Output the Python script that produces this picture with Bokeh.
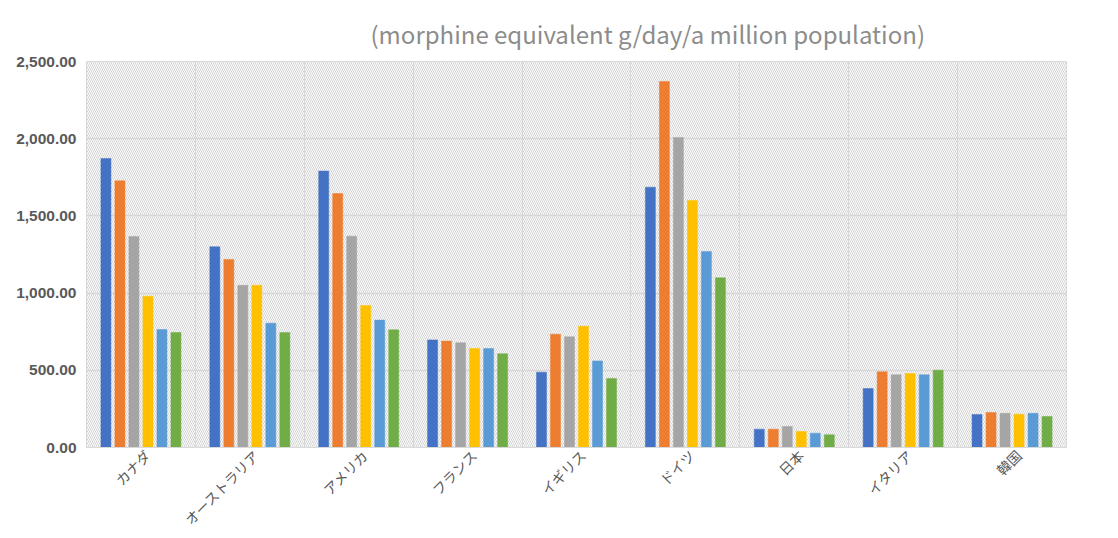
from bokeh.plotting import figure
from bokeh.models import ColumnDataSource, FixedTicker, NumeralTickFormatter, Range1d
from bokeh.embed import file_html
from bokeh.resources import INLINE
from math import pi

categories = ['カナダ', 'オーストラリア', 'アメリカ', 'フランス', 'イギリス', 'ドイツ', '日本', 'イタリア', '韓国']
series_1 = [1872, 1300, 1790, 697, 488, 1686, 119, 382, 214]
series_2 = [1727, 1218, 1645, 689, 734, 2371, 119, 490, 227]
series_3 = [1367, 1051, 1369, 678, 717, 2008, 136, 471, 222]
series_4 = [980, 1051, 920, 641, 786, 1600, 104, 479, 216]
series_5 = [764, 805, 825, 641, 561, 1269, 93, 471, 222]
series_6 = [745, 745, 762, 607, 447, 1099, 82, 501, 201]
y_ticks = [0, 500, 1000, 1500, 2000, 2500]
title_text = '(morphine equivalent g/day/a million population)'

all_series = [series_1, series_2, series_3, series_4, series_5, series_6]
colors = ['#4472C4', '#ED7D31', '#A5A5A5', '#FFC000', '#5B9BD5', '#70AD47']

p = figure(width=1118, height=538, output_backend="svg", toolbar_location=None,
           x_range=Range1d(0, len(categories)), y_range=Range1d(0, 2500),
           min_border_left=86, min_border_right=52, min_border_bottom=91, min_border_top=61)

# hatched plot background
p.quad(left=0, right=len(categories), bottom=0, top=2500, fill_color=None, line_color=None,
       hatch_pattern="\\", hatch_color="#d2d2d2", hatch_scale=4, hatch_weight=1)

step = 0.1286
bar_w = 0.092
idx = list(range(len(categories)))
for i, (vals, col) in enumerate(zip(all_series, colors)):
    src = ColumnDataSource(data=dict(
        x=[k + 0.5 + (i - 2.5) * step for k in idx],
        top=vals,
    ))
    p.vbar(x='x', top='top', width=bar_w, source=src, fill_color=col, line_color=col, line_width=0.5)

p.title.text = title_text
p.title.text_font = "Noto Sans CJK JP"
p.title.text_font_style = "normal"
p.title.text_font_size = "24px"
p.title.text_color = "#8c8c8c"
p.title.align = "left"
p.title.offset = 284
p.title.standoff = 22

p.outline_line_color = "#d9d9d9"
p.background_fill_color = "white"
p.border_fill_color = "white"

# category labels on the axis, rotated (nudged right of the group centre)
label_pos = [k + 0.56 for k in idx]
p.xaxis.ticker = FixedTicker(ticks=label_pos)
p.xaxis.major_label_overrides = {x: c for x, c in zip(label_pos, categories)}
p.xaxis.major_label_orientation = pi / 4
p.xaxis.major_label_text_font = "Noto Sans CJK JP"
p.xaxis.major_label_text_font_size = "14px"
p.xaxis.major_label_text_color = "#595959"
p.xaxis.major_label_standoff = 5
p.xaxis.axis_line_color = "#d9d9d9"
p.xaxis.major_tick_line_color = None
p.xaxis.minor_tick_line_color = None
p.xaxis.major_tick_out = 0
p.xaxis.major_tick_in = 0

p.yaxis.ticker = FixedTicker(ticks=y_ticks)
p.yaxis.formatter = NumeralTickFormatter(format="0,0.00")
p.yaxis.major_label_text_font = "Liberation Sans"
p.yaxis.major_label_text_font_style = "bold"
p.yaxis.major_label_text_font_size = "15.5px"
p.yaxis.major_label_text_color = "#595959"
p.yaxis.axis_line_color = None
p.yaxis.major_tick_line_color = None
p.yaxis.minor_tick_line_color = None
p.yaxis.major_label_standoff = 4

p.xgrid.ticker = FixedTicker(ticks=list(range(len(categories) + 1)))
p.xgrid.grid_line_color = "#dcdcdc"
p.ygrid.grid_line_color = "#dcdcdc"
p.ygrid.grid_line_width = 1.5

open("out.html", "w").write(file_html(p, INLINE))
